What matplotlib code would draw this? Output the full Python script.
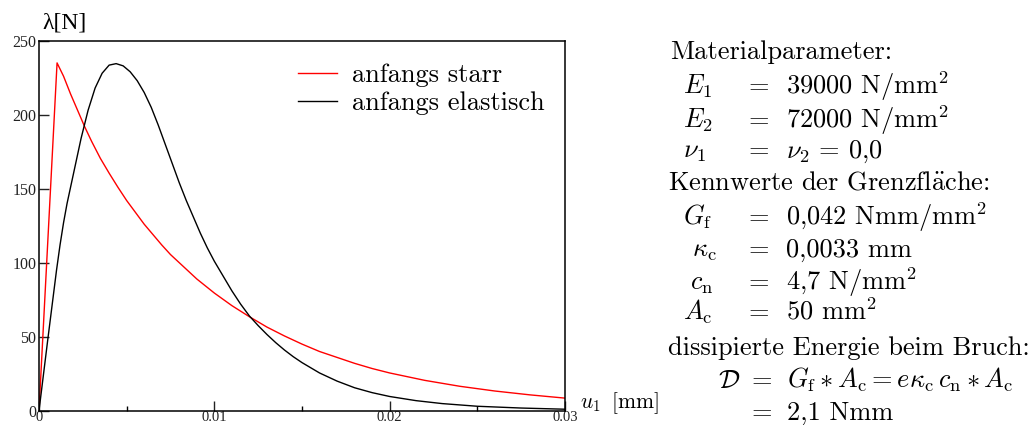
import matplotlib
matplotlib.use("Agg")
from matplotlib import pyplot as plt
from matplotlib.ticker import MultipleLocator

plt.rcParams['mathtext.fontset'] = 'cm'
plt.rcParams['axes.unicode_minus'] = False

# curves
red_u = [0, 0.00103, 0.0014, 0.0018, 0.0022, 0.0026, 0.0030, 0.0035, 0.0040, 0.0045,
         0.0050, 0.0055, 0.0060, 0.0065, 0.0070, 0.0075, 0.0080, 0.0090, 0.0100, 0.0110,
         0.0120, 0.0130, 0.0140, 0.0150, 0.0160, 0.0170, 0.0180, 0.0190, 0.0200, 0.0220,
         0.0240, 0.0260, 0.0280, 0.0300]
red_l = [0, 235, 226, 214, 203, 192, 182, 170.5, 160.5, 151, 142, 134, 126, 119, 112,
         105.5, 100, 89, 79.5, 71, 63.5, 56.5, 50.5, 45, 40, 36, 32, 28.5, 25.5, 20.5,
         16.5, 13.3, 10.7, 8.5]

black_u = [0, 0.0005, 0.0010, 0.0012, 0.0014, 0.0016, 0.0020, 0.0024, 0.0028, 0.0032,
           0.0036, 0.0040, 0.0044, 0.0048, 0.0052, 0.0056, 0.0060, 0.0064, 0.0068, 0.0072,
           0.0076, 0.0080, 0.0084, 0.0088, 0.0092, 0.0096, 0.0100, 0.0105, 0.0110, 0.0115,
           0.0120, 0.0125, 0.0130, 0.0135, 0.0140, 0.0145, 0.0150, 0.0160, 0.0170, 0.0180,
           0.0190, 0.0200, 0.0215, 0.0230, 0.0250, 0.0275, 0.0300]
black_l = [0, 48, 95, 112, 127, 140, 162, 184, 203, 218, 228, 233.5, 234.5, 233, 229, 223,
           215, 205, 193, 180, 167, 154, 142, 131, 120, 110, 101, 91, 81, 72, 64, 57.5,
           51.5, 46, 41, 36.5, 32.5, 25.5, 20, 15.5, 12.2, 9.6, 6.8, 4.8, 3.0, 1.8, 1.0]

labels = ["anfangs starr", "anfangs elastisch"]
colors = ["#ff0000", "#000000"]

x_ticks = [0, 0.01, 0.02, 0.03]
x_ticklabels = ["0", "0.01", "0.02", "0.03"]
y_ticks = [0, 50, 100, 150, 200, 250]

# parameter block on the right: (symbol, value)
params_mat = [(r"$E_1$", r"39000 N/mm$^2$"),
              (r"$E_2$", r"72000 N/mm$^2$"),
              (r"$\nu_1$", r"$\nu_2$ = 0,0")]
params_if = [(r"$G_\mathrm{f}$", r"0,042 Nmm/mm$^2$"),
             (r"$\kappa_\mathrm{c}$", r"0,0033 mm"),
             (r"$c_\mathrm{n}$", r"4,7 N/mm$^2$"),
             (r"$A_\mathrm{c}$", r"50 mm$^2$")]
params_d = [(r"$\mathcal{D}$", r"$G_\mathrm{f} * A_\mathrm{c} = e\kappa_\mathrm{c}\,c_\mathrm{n} * A_\mathrm{c}$"),
            ("", r"2,1 Nmm")]

W, H = 1035, 425
fig = plt.figure(figsize=(W / 100, H / 100), dpi=100)
ax = fig.add_axes([39 / W, 1 - 410.7 / H, 526 / W, 370 / H])

ax.plot(red_u, red_l, color=colors[0], lw=1.0, label=labels[0])
ax.plot(black_u, black_l, color=colors[1], lw=1.0, label=labels[1])

ax.set_xlim(0, 0.03)
ax.set_ylim(0, 250)
ax.set_xticks(x_ticks)
ax.set_xticklabels(x_ticklabels)
ax.set_yticks(y_ticks)
ax.xaxis.set_minor_locator(MultipleLocator(0.005))
ax.tick_params(which='major', direction='in', length=7.5, width=1.0,
               colors='#222222')
ax.tick_params(axis='y', pad=2, labelsize=11.5)
ax.tick_params(axis='x', pad=0, labelsize=10.5)
ax.tick_params(which='minor', direction='in', length=3.6, width=1.0)
for lab in ax.get_xticklabels() + ax.get_yticklabels():
    lab.set_family('Liberation Serif')
for s in ax.spines.values():
    s.set_linewidth(1.1)

fs = 19
ax.legend(loc='upper left', bbox_to_anchor=(0.492, 0.939), frameon=False,
          borderpad=0, borderaxespad=0, handlelength=1.5, handletextpad=0.56,
          labelspacing=0.18, prop={'family': 'cmr10', 'size': fs})

fig.text(42 / W, 1 - 29 / H, "λ[N]", family='Liberation Serif', fontsize=17,
         ha='left', va='baseline')
fig.text(580 / W, 1 - 408 / H, r"$u_1\;\;$[mm]", family='cmr10', fontsize=15.5,
         ha='left', va='baseline')

# right-hand text block
def row(y, sym, val, sym_x=683, eq_x=749, val_x=786):
    if sym:
        fig.text(sym_x / W, 1 - y / H, sym, family='cmr10', fontsize=fs, va='baseline')
    fig.text(eq_x / W, 1 - y / H, "=", family='cmr10', fontsize=fs, va='baseline')
    fig.text(val_x / W, 1 - y / H, val, family='cmr10', fontsize=fs, va='baseline')

fig.text(670 / W, 1 - 59 / H, "Materialparameter:", family='cmr10', fontsize=fs, va='baseline')
for (s, v), y in zip(params_mat, [94, 128, 158]):
    row(y, s, v)
fig.text(668 / W, 1 - 190 / H, r"Kennwerte der Grenzfl$\ddot{\mathrm{a}}$che:",
         family='cmr10', fontsize=fs, va='baseline')
for (s, v), y, sx in zip(params_if, [225, 257, 290, 320], [683, 692, 690, 683]):
    row(y, s, v, sym_x=sx)
fig.text(668 / W, 1 - 355 / H, "dissipierte Energie beim Bruch:",
         family='cmr10', fontsize=fs, va='baseline')
for (s, v), y in zip(params_d, [388, 420]):
    row(y, s, v, sym_x=718, eq_x=752, val_x=787)

fig.savefig("out.png", dpi=100)
